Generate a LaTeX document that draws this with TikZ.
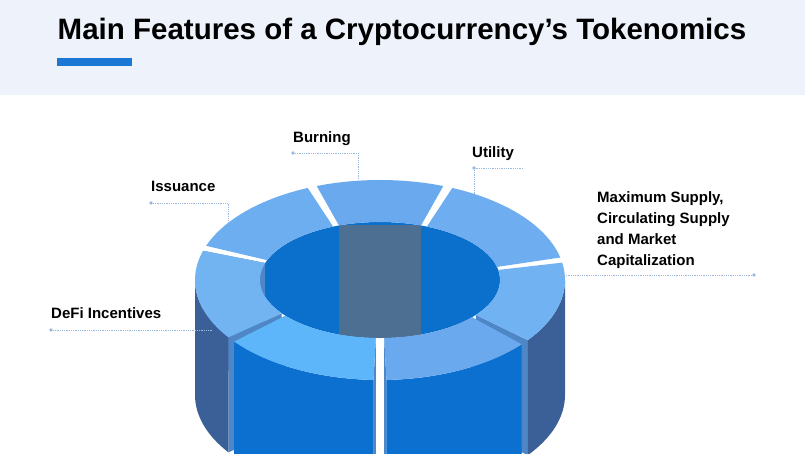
\documentclass[tikz,border=0pt]{standalone}
\usepackage{fontspec}
\setmainfont{Liberation Sans}
\usetikzlibrary{calc}
\definecolor{headbg}{HTML}{EEF3FB}
\definecolor{accent}{HTML}{1A78D4}
\definecolor{wall}{HTML}{3B5F97}
\definecolor{frontwall}{HTML}{0B70D0}
\definecolor{endface}{HTML}{4F86C6}
\definecolor{hole}{HTML}{0B6FCC}
\definecolor{slab}{HTML}{4D6F92}
\definecolor{leader}{HTML}{9AB9E0}
\begin{document}
\begin{tikzpicture}[x=1pt,y=1pt]
  \tikzstyle{lbl} = [anchor=north west, inner sep=0pt, font=\fontsize{15}{20}\selectfont\bfseries, align=left]
  \tikzstyle{lead} = [leader, densely dotted, thick]
  \tikzstyle{tip} = [circle, fill=leader, inner sep=1.3pt]
  \useasboundingbox (0,0) rectangle (805,453);
  \fill[white] (0,0) rectangle (805,453);
  \fill[headbg] (0,358) rectangle (805,453);
  \node (title) at (402,421) {\fontsize{29.5}{34}\selectfont\bfseries Main Features of a Cryptocurrency’s Tokenomics};
  \fill[accent] (57,387) rectangle (132,395);
  % ring
  \coordinate (c) at (380,173);
  \def\dep{115}
  % hole with back inner wall
  \fill[hole] (c) ellipse [x radius=120, y radius=58];
  \begin{scope}
    \clip (c) ellipse [x radius=120, y radius=58];
    \fill[slab] ($(c)+(70:120 and 58)$) -- ++(0,-\dep) -- ($(c)+(110:120 and 58)+(0,-\dep)$) -- ($(c)+(110:120 and 58)$) -- cycle;
  \end{scope}
  % end faces
  \foreach \a in {163,215,218,268,272,320,323} {
    \fill[endface] ($(c)+(\a:120 and 58)$) -- ($(c)+(\a:185 and 100)$) -- ++(0,-\dep) -- ($(c)+(\a:120 and 58)+(0,-\dep)$) -- cycle;
  }
  % outer walls
  \foreach \s/\e/\col in {180/215/wall,218/268/frontwall,272/320/frontwall,323/360/wall} {
    \fill[\col] ($(c)+(\s:185 and 100)$) arc[start angle=\s, end angle=\e, x radius=185, y radius=100] -- ++(0,-\dep) arc[start angle=\e, end angle=\s, x radius=185, y radius=100] -- cycle;
  }
  % top faces
  \foreach \s/\e/\col in {70/110/6BA9EE,113/160/6DAEF0,163/215/72B4F2,218/268/5CB6F9,272/320/6BA9EE,323/370/70B2F2,13/67/6EADF0} {
    \definecolor{tc}{HTML}{\col}
    \fill[tc] ($(c)+(\s:185 and 100)$) arc[start angle=\s, end angle=\e, x radius=185, y radius=100] -- ($(c)+(\e:120 and 58)$) arc[start angle=\e, end angle=\s, x radius=120, y radius=58] -- cycle;
  }
  % labels
  \node[lbl] (burn) at (293,322) {Burning};
  \node[tip] (burndot) at (293,300) {};
  \coordinate (burnend) at (358,273);
  \draw[lead] (burndot) -| (burnend);
  \node[lbl] (util) at (472,307) {Utility};
  \node[tip] (utildot) at (474,285) {};
  \coordinate (utilend) at (474,258);
  \coordinate (utilr) at (523,285);
  \draw[lead] (utilr) -- (utildot) -- (utilend);
  \node[lbl] (iss) at (151,272) {Issuance};
  \node[tip] (issdot) at (151,250) {};
  \coordinate (issend) at (228,231);
  \draw[lead] (issdot) -| (issend);
  \node[lbl] (defi) at (51,146) {DeFi Incentives};
  \node[tip] (defidot) at (51,123) {};
  \coordinate (defiend) at (212,123);
  \draw[lead] (defidot) -- (defiend);
  \node[lbl, font=\fontsize{15}{21}\selectfont\bfseries] (maxs) at (597,262) {Maximum Supply,\\Circulating Supply\\and Market\\Capitalization};
  \node[tip] (maxdot) at (754,178) {};
  \coordinate (maxend) at (560,178);
  \draw[lead] (maxdot) -- (maxend);
\end{tikzpicture}
\end{document}
